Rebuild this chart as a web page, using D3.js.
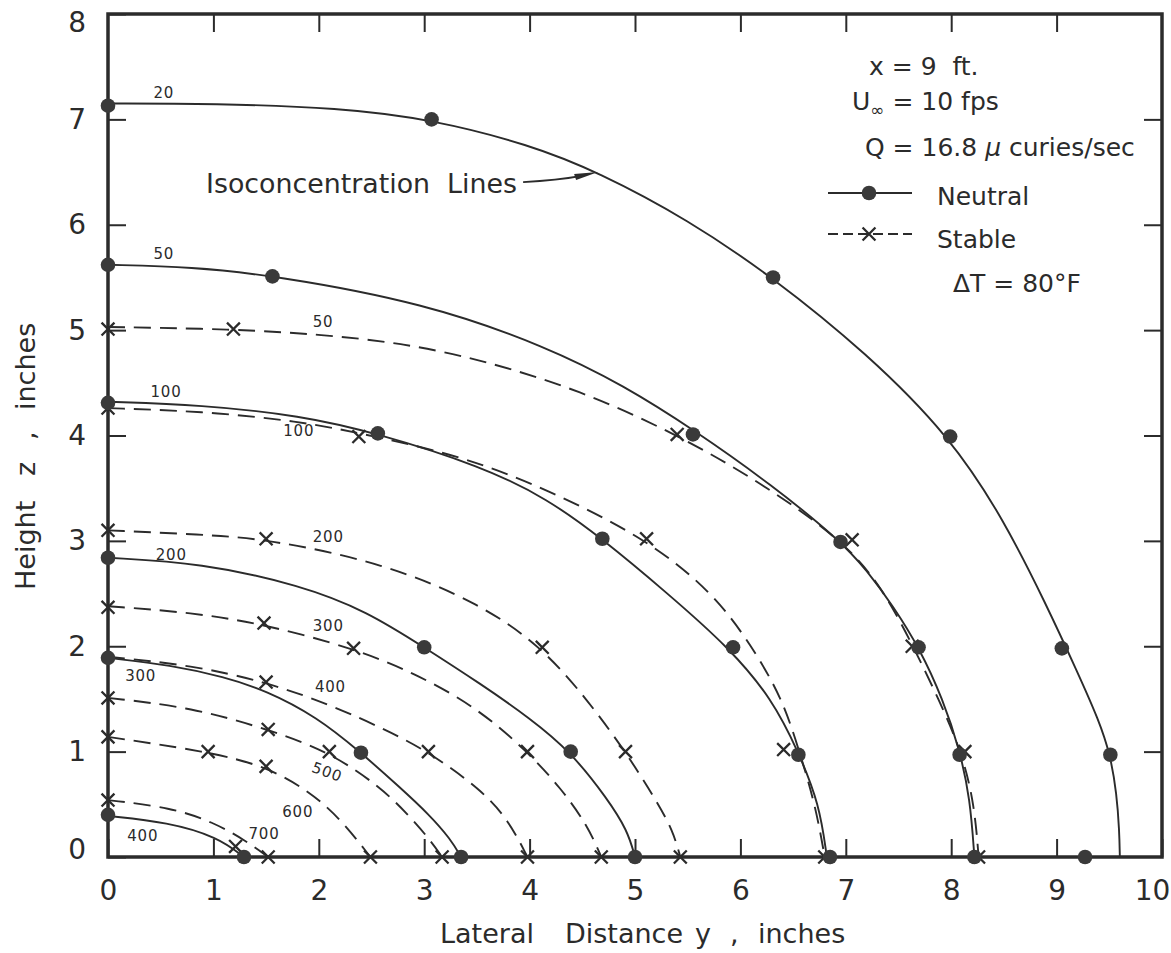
<!DOCTYPE html>
<html>
<head>
<meta charset="utf-8">
<script src="https://cdn.jsdelivr.net/npm/d3@7"></script>
<style>
  html, body { margin: 0; padding: 0; background: #fff; }
  svg { display: block; font-family: "DejaVu Sans", sans-serif; }
</style>
</head>
<body>
<svg id="chart" width="1171" height="953"></svg>
<script>
// Axis ticks: lateral distance y (in) and height z (in)
const xTicks = [0, 1, 2, 3, 4, 5, 6, 7, 8, 9, 10];
const yTicks = [0, 1, 2, 3, 4, 5, 6, 7, 8];

// Concentration levels of the isoconcentration lines
const neutralLevels = [20, 50, 100, 200, 300, 400];
const stableLevels  = [50, 100, 200, 300, 400, 500, 600, 700];

// Neutral flow: measured points [y, z]
const neutral20  = [[0, 7.13], [3.07, 7.0], [6.31, 5.5], [7.99, 3.99], [9.05, 1.98], [9.51, 0.97], [9.27, 0]];
const neutral50  = [[0, 5.62], [1.56, 5.51], [5.55, 4.01], [6.95, 2.99], [7.69, 1.99], [8.08, 0.97], [8.22, 0]];
const neutral100 = [[0, 4.31], [2.56, 4.02], [4.69, 3.02], [5.93, 1.99], [6.55, 0.97], [6.85, 0]];
const neutral200 = [[0, 2.84], [3.0, 1.99], [4.39, 1.0], [5.0, 0]];
const neutral300 = [[0, 1.89], [2.4, 0.99], [3.35, 0]];
const neutral400 = [[0, 0.4], [1.29, 0]];

// Neutral flow: faired isoconcentration lines [y, z]
const neutral20Line  = [[0, 7.15], [1.0, 7.15], [2.2, 7.11], [3.07, 7.0], [4.0, 6.76], [4.65, 6.5], [5.5, 6.05], [6.31, 5.5], [7.2, 4.78], [7.99, 3.99], [8.5, 3.2], [8.9, 2.4], [9.2, 1.75], [9.4, 1.3], [9.51, 0.97], [9.57, 0.6], [9.595, 0.25], [9.6, 0]];
const neutral50Line  = [[0, 5.62], [0.8, 5.6], [1.56, 5.52], [3.0, 5.26], [4.17, 4.84], [4.9, 4.47], [5.55, 4.06], [6.3, 3.53], [6.95, 3.0], [7.2, 2.72], [7.45, 2.38], [7.7, 1.98], [7.92, 1.5], [8.08, 1.02], [8.18, 0.55], [8.22, 0]];
const neutral100Line = [[0, 4.32], [0.88, 4.29], [1.83, 4.19], [2.56, 4.02], [3.54, 3.71], [4.17, 3.4], [4.69, 3.02], [5.3, 2.51], [5.9, 1.98], [6.3, 1.5], [6.55, 1.0], [6.75, 0.5], [6.82, 0]];
const neutral200Line = [[0, 2.84], [0.88, 2.79], [1.83, 2.58], [2.46, 2.33], [3.0, 1.99], [3.54, 1.64], [4.0, 1.32], [4.39, 1.0], [4.74, 0.55], [4.93, 0.25], [5.0, 0]];
const neutral300Line = [[0, 1.89], [0.6, 1.82], [1.1, 1.71], [1.5, 1.58], [1.98, 1.33], [2.39, 1.0], [2.77, 0.66], [3.05, 0.4], [3.25, 0.17], [3.35, 0]];
const neutral400Line = [[0, 0.39], [0.57, 0.33], [1.04, 0.19], [1.29, 0]];

// Stable flow (dT = 80 F): measured points [y, z]
const stable50  = [[0, 5.01], [1.19, 5.01], [5.40, 4.01], [7.06, 3.01], [7.63, 2.0], [8.13, 1.0], [8.26, 0]];
const stable100 = [[0, 4.26], [2.38, 3.99], [5.11, 3.02], [6.41, 1.02], [6.8, 0]];
const stable200 = [[0, 3.1], [1.5, 3.02], [4.12, 1.99], [4.91, 1.0], [5.43, 0]];
const stable300 = [[0, 2.37], [1.48, 2.22], [2.33, 1.98], [3.98, 1.0], [4.68, 0]];
const stable400 = [[1.5, 1.66], [3.04, 1.0], [3.98, 0]];
const stable500 = [[0, 1.51], [1.52, 1.21], [2.1, 1.0], [3.17, 0]];
const stable600 = [[0, 1.14], [0.95, 1.0], [1.5, 0.86], [2.49, 0]];
const stable700 = [[0, 0.54], [1.21, 0.1], [1.52, 0]];

// Stable flow: faired isoconcentration lines [y, z]
const stable50Line  = [[0, 5.03], [1.19, 5.01], [2.0, 4.96], [2.78, 4.88], [3.54, 4.72], [4.48, 4.43], [5.40, 4.01], [6.2, 3.55], [6.98, 3.0], [7.35, 2.55], [7.64, 2.0], [7.88, 1.5], [8.1, 1.0], [8.22, 0.5], [8.26, 0]];
const stable100Line = [[0, 4.26], [0.88, 4.23], [1.8, 4.14], [2.5, 4.0], [3.37, 3.8], [4.17, 3.49], [5.11, 3.02], [5.74, 2.51], [6.11, 2.0], [6.4, 1.5], [6.56, 1.0], [6.71, 0.5], [6.8, 0]];
const stable200Line = [[0, 3.1], [0.88, 3.06], [1.5, 3.02], [2.62, 2.79], [3.54, 2.4], [4.12, 1.99], [4.55, 1.49], [4.91, 1.0], [5.2, 0.54], [5.36, 0.25], [5.43, 0]];
const stable300Line = [[0, 2.38], [0.8, 2.32], [1.48, 2.21], [2.33, 1.98], [2.9, 1.75], [3.5, 1.42], [3.98, 1.0], [4.3, 0.65], [4.55, 0.3], [4.68, 0]];
const stable400Line = [[0, 1.9], [0.8, 1.82], [1.5, 1.66], [2.1, 1.45], [2.65, 1.2], [3.04, 1.0], [3.54, 0.64], [3.8, 0.35], [3.98, 0]];
const stable500Line = [[0, 1.51], [0.8, 1.42], [1.52, 1.21], [2.1, 1.0], [2.59, 0.66], [2.85, 0.4], [3.05, 0.17], [3.17, 0]];
const stable600Line = [[0, 1.14], [0.95, 1.0], [1.5, 0.86], [1.9, 0.63], [2.2, 0.37], [2.49, 0]];
const stable700Line = [[0, 0.54], [0.6, 0.47], [1.0, 0.33], [1.3, 0.16], [1.52, 0]];

// Where each line's level number sits, in data units [y, z]
const neutralLabelSpots = [[0.53, 7.25], [0.53, 5.73], [0.55, 4.42], [0.6, 2.87], [0.31, 1.72], [0.33, 0.2]];
const stableLabelSpots  = [[2.04, 5.08], [1.81, 4.05], [2.09, 3.04], [2.09, 2.2], [2.11, 1.62], [2.08, 0.81], [1.8, 0.43], [1.48, 0.22]];
const stableLabelTilt   = [0, 0, 0, 0, 0, 20, 0, 0];

const neutralSeries = [
  { pts: neutral20,  line: neutral20Line },
  { pts: neutral50,  line: neutral50Line },
  { pts: neutral100, line: neutral100Line },
  { pts: neutral200, line: neutral200Line },
  { pts: neutral300, line: neutral300Line },
  { pts: neutral400, line: neutral400Line }
].map((s, i) => ({ ...s, level: neutralLevels[i], spot: neutralLabelSpots[i], tilt: 0 }));

const stableSeries = [
  { pts: stable50,  line: stable50Line },
  { pts: stable100, line: stable100Line },
  { pts: stable200, line: stable200Line },
  { pts: stable300, line: stable300Line },
  { pts: stable400, line: stable400Line },
  { pts: stable500, line: stable500Line },
  { pts: stable600, line: stable600Line },
  { pts: stable700, line: stable700Line }
].map((s, i) => ({ ...s, level: stableLevels[i], spot: stableLabelSpots[i], tilt: stableLabelTilt[i] }));

// ---------------------------------------------------------------
const ink = "#2b2b2b";
const markFill = "#3a3a3a";
const svg = d3.select("#chart");

const x = d3.scaleLinear().domain([0, 10]).range([108, 1162]);
const y = d3.scaleLinear().domain([0, 8]).range([857, 14]);

function styleAxis(g, size) {
  g.select(".domain").remove();
  g.selectAll(".tick line").attr("stroke", ink).attr("stroke-width", 2);
  g.selectAll(".tick text")
    .attr("fill", ink)
    .attr("font-size", size)
    .attr("font-family", "DejaVu Sans, sans-serif");
}

// bottom axis: inward ticks, labels below
const gBottom = svg.append("g")
  .attr("transform", `translate(0,${y(0)})`)
  .call(d3.axisBottom(x).tickValues(xTicks).tickSizeInner(-18).tickSizeOuter(0)
    .tickPadding(23).tickFormat(d3.format("d")));
styleAxis(gBottom, 28);
gBottom.selectAll(".tick text").filter(d => d === 10).attr("dx", -10);

// left axis
const gLeft = svg.append("g")
  .attr("transform", `translate(${x(0)},0)`)
  .call(d3.axisLeft(y).tickValues(yTicks).tickSizeInner(-18).tickSizeOuter(0)
    .tickPadding(22).tickFormat(d3.format("d")));
styleAxis(gLeft, 28);
gLeft.selectAll(".tick text").filter(d => d === 8).attr("dy", "0.62em");
gLeft.selectAll(".tick text").filter(d => d === 0).attr("dy", "0.05em");

// top and right axes: ticks only
const gTop = svg.append("g")
  .attr("transform", `translate(0,${y(8)})`)
  .call(d3.axisTop(x).tickValues(xTicks.slice(1, -1)).tickSizeInner(-18).tickSizeOuter(0).tickFormat(""));
styleAxis(gTop, 0);
const gRight = svg.append("g")
  .attr("transform", `translate(${x(10)},0)`)
  .call(d3.axisRight(y).tickValues(yTicks.slice(1, -1)).tickSizeInner(-18).tickSizeOuter(0).tickFormat(""));
styleAxis(gRight, 0);

// plot frame
svg.append("rect")
  .attr("x", x(0)).attr("y", y(8))
  .attr("width", x(10) - x(0)).attr("height", y(0) - y(8))
  .attr("fill", "none").attr("stroke", ink).attr("stroke-width", 3.5);

// axis titles
const xTitle = svg.append("text")
  .attr("y", 943).attr("fill", ink).attr("font-size", 27);
[["Lateral", 440], ["Distance", 565], ["y", 695], [",", 730], ["inches", 758]]
  .forEach(([t, px]) => xTitle.append("tspan").attr("x", px).text(t));

const yTitle = svg.append("text")
  .attr("transform", "translate(35,0) rotate(-90)")
  .attr("fill", ink).attr("font-size", 27);
[["Height", -590], ["z", -476], [",", -440], ["inches", -410]]
  .forEach(([t, px]) => yTitle.append("tspan").attr("x", px).text(t));

// isoconcentration lines (smooth B-spline through the faired points)
const lineGen = d3.line()
  .x(d => x(d[0])).y(d => y(d[1]))
  .curve(d3.curveBasis);

const gLines = svg.append("g").attr("fill", "none").attr("stroke", ink).attr("stroke-width", 1.9);
gLines.selectAll("path.neutral").data(neutralSeries).join("path")
  .attr("class", "neutral").attr("d", d => lineGen(d.line));
gLines.selectAll("path.stable").data(stableSeries).join("path")
  .attr("class", "stable").attr("d", d => lineGen(d.line))
  .attr("stroke-dasharray", "17,9");

// measured points
const xSym = d3.symbol().type(d3.symbolX).size(110);
svg.append("g").selectAll("path")
  .data(stableSeries.flatMap(s => s.pts)).join("path")
  .attr("transform", d => `translate(${x(d[0])},${y(d[1])})`)
  .attr("d", xSym).attr("fill", "none").attr("stroke", ink).attr("stroke-width", 2.3);

svg.append("g").selectAll("circle")
  .data(neutralSeries.flatMap(s => s.pts)).join("circle")
  .attr("cx", d => x(d[0])).attr("cy", d => y(d[1])).attr("r", 7.3)
  .attr("fill", markFill);

// level numbers on the lines
svg.append("g").selectAll("text")
  .data(neutralSeries.concat(stableSeries)).join("text")
  .attr("transform", d => `translate(${x(d.spot[0])},${y(d.spot[1])}) rotate(${d.tilt})`)
  .attr("text-anchor", "middle").attr("dy", "0.36em")
  .attr("font-size", 15).attr("letter-spacing", 0.8)
  .attr("fill", ink)
  .text(d => d.level);

// annotation with arrow onto the 20 line
svg.append("text")
  .attr("x", 206).attr("y", 193)
  .attr("font-size", 26).attr("fill", ink)
  .style("white-space", "pre")
  .attr("textLength", 311).attr("lengthAdjust", "spacingAndGlyphs")
  .text("Isoconcentration  Lines");

const tip = [x(4.65), y(6.5)];
svg.append("path")
  .attr("d", `M${tip[0] - 75},${tip[1] + 10} Q${tip[0] - 40},${tip[1] + 8} ${tip[0] - 18},${tip[1] + 4}`)
  .attr("fill", "none").attr("stroke", ink).attr("stroke-width", 1.8);
svg.append("path")
  .attr("d", `M${tip[0]},${tip[1]} L${tip[0] - 24},${tip[1] + 2} L${tip[0] - 22},${tip[1] + 8} Z`)
  .attr("fill", ink);

// legend and run conditions
const legendFont = 25;
function legendLine(px, py) {
  return svg.append("text").attr("x", px).attr("y", py)
    .attr("font-size", legendFont).attr("fill", ink)
    .style("white-space", "pre");
}
legendLine(869, 75).text("x = 9  ft.");

const uLine = legendLine(852, 110);
uLine.append("tspan").text("U");
uLine.append("tspan").attr("font-size", 17).attr("dy", 6).text("∞");
uLine.append("tspan").attr("dy", -6).text(" = 10 fps");

const qLine = legendLine(865, 156);
qLine.append("tspan").text("Q = 16.8 ");
qLine.append("tspan").attr("font-style", "italic").text("μ");
qLine.append("tspan").text(" curies/sec");

svg.append("line").attr("x1", 828).attr("x2", 912).attr("y1", 193).attr("y2", 193)
  .attr("stroke", ink).attr("stroke-width", 1.9);
svg.append("circle").attr("cx", 869).attr("cy", 193).attr("r", 7.3).attr("fill", markFill);
legendLine(937, 205).text("Neutral");

svg.append("line").attr("x1", 828).attr("x2", 912).attr("y1", 234).attr("y2", 234)
  .attr("stroke", ink).attr("stroke-width", 1.9).attr("stroke-dasharray", "10,5");
svg.append("path").attr("transform", "translate(869,234)")
  .attr("d", xSym).attr("fill", "none").attr("stroke", ink).attr("stroke-width", 2.3);
legendLine(937, 248).text("Stable");

legendLine(953, 292).text("ΔT = 80°F");
</script>
</body>
</html>
